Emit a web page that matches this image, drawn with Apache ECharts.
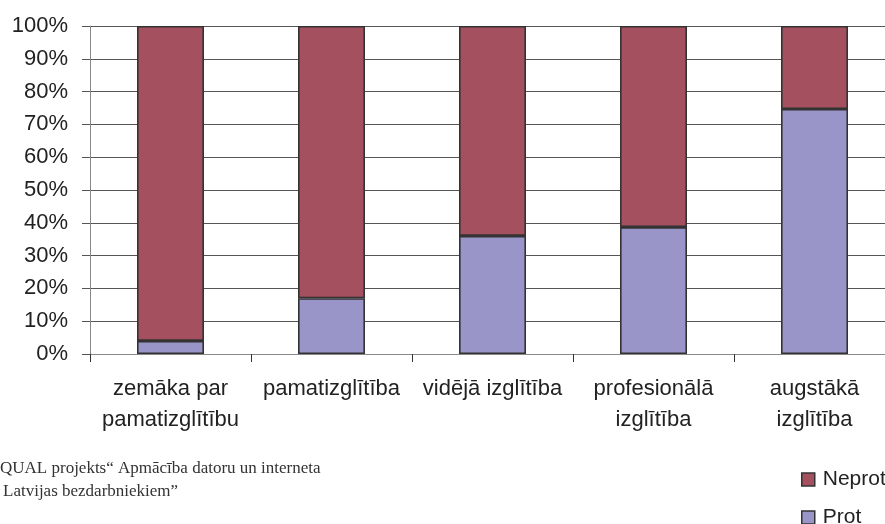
<!DOCTYPE html>
<html><head><meta charset="utf-8">
<script src="https://cdn.jsdelivr.net/npm/echarts@6/dist/echarts.min.js"></script>
<style>html,body{margin:0;padding:0;background:#fff}#c{width:885px;height:524px}</style>
</head><body><div id="c"></div>
<script>
const categories = ["zemāka par\npamatizglītību", "pamatizglītība", "vidējā izglītība", "profesionālā\nizglītība", "augstākā\nizglītība"];
const prot = [4, 17, 36, 38.7, 74.7];
const neprot = [96, 83, 64, 61.3, 25.3];
const yTicks = [0, 10, 20, 30, 40, 50, 60, 70, 80, 90, 100];
const footer1 = "QUAL projekts“ Apmācība datoru un interneta";
const footer2 = "Latvijas bezdarbniekiem”";

const chart = echarts.init(document.getElementById('c'), null, {renderer: 'canvas'});
const barBorder = {borderColor: '#333', borderWidth: 1.6};
const legendBase = {
  orient: 'vertical', left: 801, itemWidth: 13, itemHeight: 13, icon: 'rect', padding: 0,
  textStyle: {fontFamily: 'Liberation Sans, Arial', fontSize: 21, color: '#222', padding: [0,0,0,3]}
};
chart.setOption({
  animation: false,
  grid: {left: 90, top: 26, width: 805, height: 328, outerBoundsMode: 'none', containLabel: false},
  legend: [
    Object.assign({top: 469, data: [{name: 'Neprot', itemStyle: {borderColor: '#333', borderWidth: 1.5}}]}, legendBase),
    Object.assign({top: 507, data: [{name: 'Prot', itemStyle: {borderColor: '#333', borderWidth: 1.5}}]}, legendBase)
  ],
  xAxis: {
    type: 'category', data: categories,
    axisLine: {lineStyle: {color: '#888', width: 1}},
    axisTick: {show: true, length: 8, lineStyle: {color: '#333'}},
    axisLabel: {fontFamily: 'Liberation Sans, Arial', fontSize: 22, color: '#222', margin: 19, lineHeight: 31, interval: 0, verticalAlign: 'top'}
  },
  yAxis: {
    type: 'value', min: 0, max: 100, interval: 10,
    axisLine: {show: true, lineStyle: {color: '#888'}},
    axisTick: {show: true, length: 8, lineStyle: {color: '#555'}},
    splitLine: {show: true, lineStyle: {color: '#555', width: 1}},
    axisLabel: {fontFamily: 'Liberation Sans, Arial', fontSize: 22, color: '#222', margin: 22,
      formatter: v => yTicks.includes(v) ? v + '%' : ''}
  },
  series: [
    {name: 'Prot', type: 'bar', stack: 's', data: prot, barWidth: 67,
      itemStyle: Object.assign({color: '#9A95C9'}, barBorder)},
    {name: 'Neprot', type: 'bar', stack: 's', data: neprot, barWidth: 67,
      itemStyle: Object.assign({color: '#A5505F'}, barBorder)}
  ],
  graphic: [
    {type: 'text', left: 0, top: 460, style: {text: footer1, font: '17px "Liberation Serif", "Times New Roman", serif', fill: '#333'}},
    {type: 'text', left: 3, top: 483, style: {text: footer2, font: '17px "Liberation Serif", "Times New Roman", serif', fill: '#333'}}
  ]
});
</script></body></html>
